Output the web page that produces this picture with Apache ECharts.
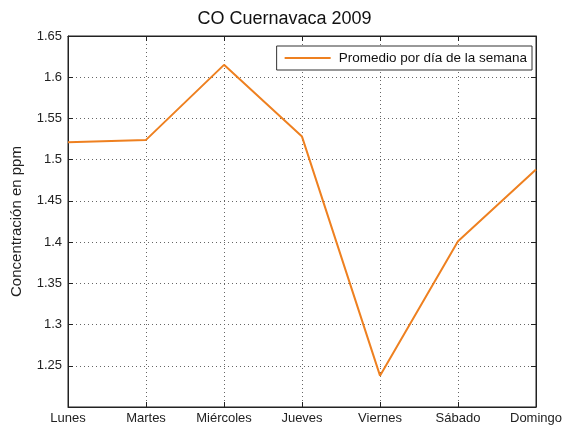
<!DOCTYPE html>
<html><head><meta charset="utf-8">
<script src="https://cdn.jsdelivr.net/npm/echarts@6/dist/echarts.min.js"></script>
<style>html,body{margin:0;padding:0;background:#fff}#c{width:569px;height:429px}</style>
</head><body><div id="c"></div>
<script>
const days = ['Lunes','Martes','Miércoles','Jueves','Viernes','Sábado','Domingo'];
const promedio = [1.521, 1.524, 1.615, 1.528, 1.238, 1.401, 1.488];
const titleText = 'CO Cuernavaca 2009';
const seriesName = 'Promedio por día de la semana';
const yName = 'Concentración en ppm';

const chart = echarts.init(document.getElementById('c'));
const font = 'Liberation Sans, Arial, sans-serif';
chart.setOption({
  animation: false,
  textStyle: {fontFamily: font},
  title: {text: titleText, left: 'center', top: 5, textStyle: {fontSize: 18, fontWeight: 'normal', color: '#111', fontFamily: font}},
  grid: {left: 68, right: 33, top: 36, bottom: 22, show: true, borderColor: '#222', borderWidth: 1},
  legend: {
    right: 37, top: 46, orient: 'horizontal',
    backgroundColor: '#fff', borderColor: '#333', borderWidth: 1, borderRadius: 0,
    padding: [5, 5, 5, 8], itemWidth: 46, itemHeight: 2, itemGap: 4,
    data: [{name: seriesName, icon: 'rect'}],
    textStyle: {fontSize: 13.5, color: '#111', fontFamily: font, padding: [0, 0, 0, 3]}
  },
  xAxis: [{
    type: 'category', data: days, boundaryGap: false,
    axisLine: {show: true, lineStyle: {color: '#222'}},
    axisTick: {show: true, inside: true, length: 5, alignWithLabel: true, lineStyle: {color: '#222'}},
    axisLabel: {fontSize: 13, color: '#222', margin: 5, fontFamily: font},
    splitLine: {show: true, lineStyle: {type: [1, 3], color: '#666'}}
  }, {
    type: 'category', data: days, boundaryGap: false, position: 'top',
    axisLine: {show: true, lineStyle: {color: '#222'}},
    axisTick: {show: true, inside: true, length: 5, lineStyle: {color: '#222'}},
    axisLabel: {show: false}, splitLine: {show: false}
  }],
  yAxis: [{
    type: 'value', min: 1.2, max: 1.65, interval: 0.05,
    name: yName, nameLocation: 'middle', nameGap: 44, nameRotate: 90,
    nameTextStyle: {fontSize: 15, color: '#222', fontFamily: font},
    axisLine: {show: true, lineStyle: {color: '#222'}},
    axisTick: {show: true, inside: true, length: 5, lineStyle: {color: '#222'}},
    axisLabel: {fontSize: 13, color: '#222', margin: 6, fontFamily: font,
      formatter: v => v < 1.21 ? '' : String(+v.toFixed(2))},
    splitLine: {show: true, lineStyle: {type: [1, 3], color: '#666'}}
  }, {
    type: 'value', min: 1.2, max: 1.65, interval: 0.05, position: 'right',
    axisLine: {show: true, lineStyle: {color: '#222'}},
    axisTick: {show: true, inside: true, length: 5, lineStyle: {color: '#222'}},
    axisLabel: {show: false}, splitLine: {show: false}
  }],
  series: [{
    name: seriesName, type: 'line', data: promedio,
    xAxisIndex: 0, yAxisIndex: 0,
    symbol: 'none', lineStyle: {color: '#EE8020', width: 2}, itemStyle: {color: '#EE8020'}
  }]
});
</script></body></html>
